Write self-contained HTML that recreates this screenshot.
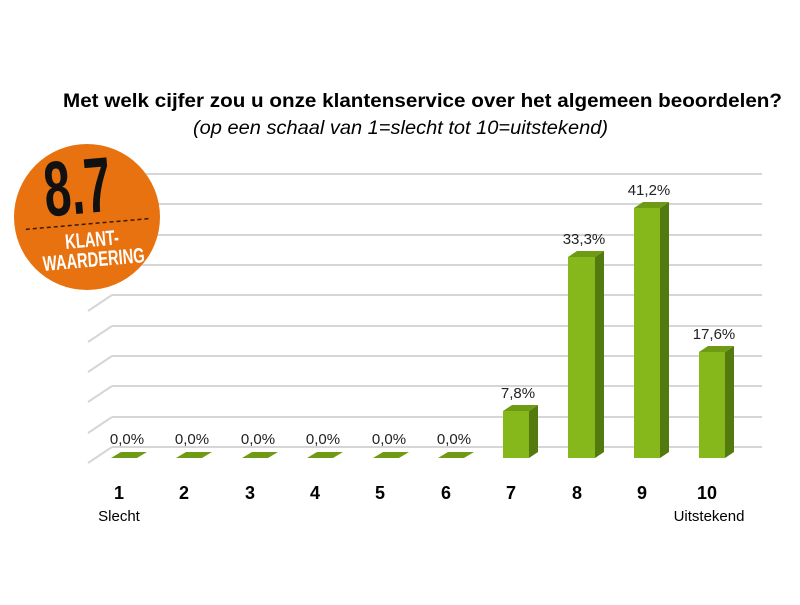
<!DOCTYPE html>
<html><head><style>body{margin:0;background:#fff}</style></head><body>
<svg width="800" height="600" xmlns="http://www.w3.org/2000/svg" font-family="Liberation Sans, sans-serif">
<rect width="800" height="600" fill="#fff"/>
<text x="63" y="107" textLength="719" lengthAdjust="spacingAndGlyphs" font-weight="bold" font-size="19">Met welk cijfer zou u onze klantenservice over het algemeen beoordelen?</text>
<text x="193" y="134" textLength="415" lengthAdjust="spacingAndGlyphs" font-style="italic" font-size="19">(op een schaal van 1=slecht tot 10=uitstekend)</text>
<g stroke="#d6d6d6" stroke-width="2" fill="none">
<path d="M112 174H762M112 204H762M112 235H762M112 265H762M112 295H762M112 326H762M112 356H762M112 386H762M112 417H762M112 447H762"/>
<path d="M112 295L88 311M112 326L88 342M112 356L88 372M112 386L88 402M112 417L88 433M112 447L88 463"/>
</g>
<g fill="#6f9a14">
<path d="M111 458L121 452H147L137 458Z"/><path d="M176 458L186 452H212L202 458Z"/><path d="M242 458L252 452H278L268 458Z"/><path d="M307 458L317 452H343L333 458Z"/><path d="M373 458L383 452H409L399 458Z"/><path d="M438 458L448 452H474L464 458Z"/>
</g>
<rect x="503" y="411" width="26" height="47" fill="#86b81b"/><path d="M529 411L538 405V452L529 458Z" fill="#527a0e"/><path d="M503 411L512 405H538L529 411Z" fill="#6f9a14"/>
<rect x="568" y="257" width="27" height="201" fill="#86b81b"/><path d="M595 257L604 251V452L595 458Z" fill="#527a0e"/><path d="M568 257L577 251H604L595 257Z" fill="#6f9a14"/>
<rect x="634" y="208" width="26" height="250" fill="#86b81b"/><path d="M660 208L669 202V452L660 458Z" fill="#527a0e"/><path d="M634 208L643 202H669L660 208Z" fill="#6f9a14"/>
<rect x="699" y="352" width="26" height="106" fill="#86b81b"/><path d="M725 352L734 346V452L725 458Z" fill="#527a0e"/><path d="M699 352L708 346H734L725 352Z" fill="#6f9a14"/>
<g font-size="15" text-anchor="middle" fill="#222">
<text x="127" y="444">0,0%</text><text x="192" y="444">0,0%</text><text x="258" y="444">0,0%</text><text x="323" y="444">0,0%</text><text x="389" y="444">0,0%</text><text x="454" y="444">0,0%</text>
<text x="518" y="398">7,8%</text><text x="584" y="244">33,3%</text><text x="649" y="195">41,2%</text><text x="714" y="339">17,6%</text>
</g>
<g font-size="18" font-weight="bold" text-anchor="middle">
<text x="119" y="499">1</text><text x="184" y="499">2</text><text x="250" y="499">3</text><text x="315" y="499">4</text><text x="380" y="499">5</text><text x="446" y="499">6</text><text x="511" y="499">7</text><text x="577" y="499">8</text><text x="642" y="499">9</text><text x="707" y="499">10</text>
</g>
<g font-size="15" text-anchor="middle"><text x="119" y="521">Slecht</text><text x="709" y="521">Uitstekend</text></g>
<circle cx="87" cy="217" r="73" fill="#e8720f"/>
<g transform="rotate(-5 87 217)">
<text x="0" y="0" text-anchor="middle" font-size="78" font-weight="bold" fill="#111" transform="translate(80 213) scale(0.62 1)">8.7</text>
<line x1="25" y1="224" x2="150" y2="224" stroke="#3a1a00" stroke-width="1.5" stroke-dasharray="4 3"/>
<text x="0" y="0" text-anchor="middle" font-size="21" font-weight="bold" fill="#fff" transform="translate(90 247) scale(0.7 1)">KLANT-</text>
<text x="0" y="0" text-anchor="middle" font-size="21" font-weight="bold" fill="#fff" transform="translate(90 267) scale(0.7 1)">WAARDERING</text>
</g>
</svg>
</body></html>
